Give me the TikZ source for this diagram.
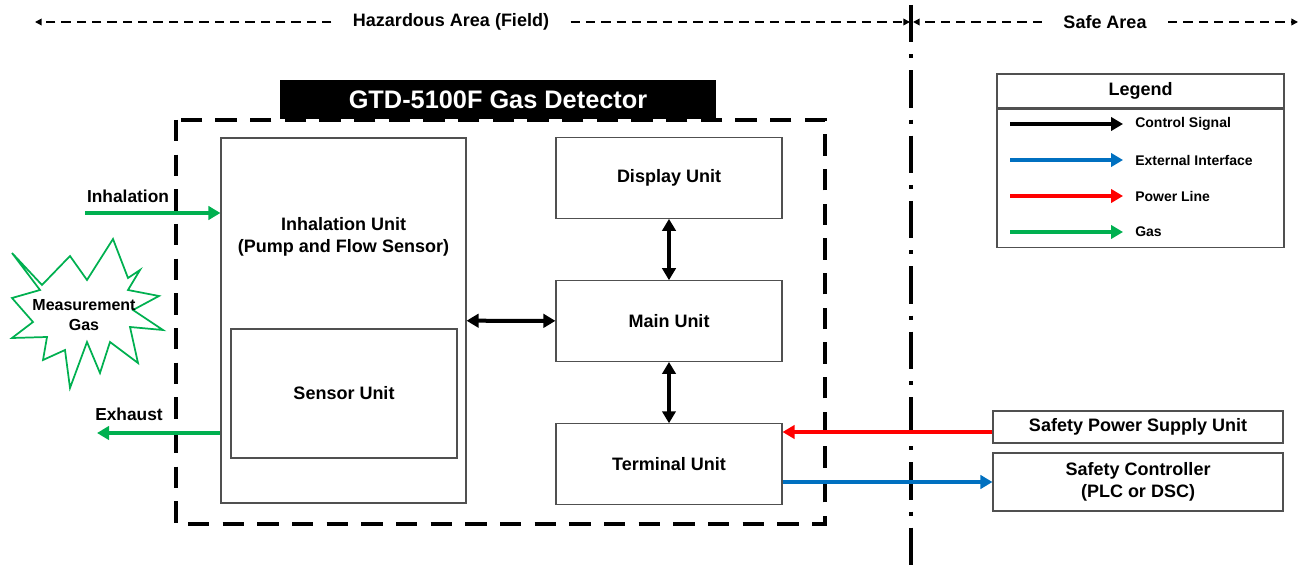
\documentclass[tikz,border=0pt]{standalone}
\usepackage{fontspec}
\setmainfont{Liberation Sans}
\usetikzlibrary{arrows.meta,positioning,calc}
\definecolor{GasGreen}{HTML}{00B050}
\definecolor{LinkBlue}{HTML}{0070C0}
\definecolor{PowerRed}{HTML}{FF0000}
\definecolor{Frame}{HTML}{505050}
\tikzset{
  unit/.style={draw=Frame, line width=0.8pt, fill=white, align=center,
               inner sep=0pt, font=\bfseries\fontsize{13.5}{17}\selectfont},
  tagtext/.style={font=\bfseries\fontsize{13}{16}\selectfont, inner sep=1pt},
  legtext/.style={font=\bfseries\fontsize{10.5}{12}\selectfont, inner sep=0pt, anchor=west},
  area/.style={font=\bfseries\fontsize{13.5}{16}\selectfont, inner xsep=16pt},
  zone/.style={line width=1.1pt, dash pattern=on 7pt off 4.5pt,
               -{Triangle[length=5pt,width=5pt]}},
  divider/.style={line width=3pt, dash pattern=on 28pt off 9pt on 3pt off 9pt},
  housing/.style={line width=3pt, dash pattern=on 16pt off 10pt},
  flow/.style={line width=3pt, -{Triangle[length=9pt,width=10pt]}},
  ctlarrow/.style={flow, draw=black},
  gasarrow/.style={flow, draw=GasGreen},
  linkarrow/.style={flow, draw=LinkBlue},
  powerarrow/.style={flow, draw=PowerRed},
  ctlboth/.style={line width=3pt, {Triangle[length=9pt,width=10pt]}-{Triangle[length=9pt,width=10pt]}},
}
\begin{document}
\begin{tikzpicture}[x=0.75pt, y=-0.75pt, node distance=46pt]
  \useasboundingbox (0,0) rectangle (1301,577);
  % areas
  \node[area] (haz) at (451,22) {Hazardous Area (Field)};
  \node[area] (safe) at (1105,22) {Safe Area};
  \coordinate (hazL) at (35,22);
  \coordinate (hazR) at (910,22);
  \coordinate (safeL) at (913,22);
  \coordinate (safeR) at (1298,22);
  \draw[zone] (haz.west) -- (hazL);
  \draw[zone] (haz.east) -- (hazR);
  \draw[zone] (safe.west) -- (safeL);
  \draw[zone] (safe.east) -- (safeR);
  \draw[divider] (911,5) -- (911,577);
  % detector housing
  \draw[housing] (176,120) rectangle (825,524);
  \node[fill=black, text=white, inner sep=0pt, minimum width=327pt, minimum height=29.25pt,
        font=\bfseries\fontsize{19}{22}\selectfont] (title) at (498,99.5) {GTD-5100F Gas Detector};
  % units
  \node[unit, minimum width=183.75pt, minimum height=273.75pt] (inhal) at (343.5,320.5) {};
  \node[unit, draw=none, fill=none] (inhaltxt) at (343.5,237) {Inhalation Unit\\(Pump and Flow Sensor)};
  \node[unit, minimum width=169.5pt, minimum height=96.75pt] (sensor) at (344,393.5) {Sensor Unit};
  \node[unit, minimum width=169.5pt, minimum height=60.5pt] (disp) at (669,178) {Display Unit};
  \node[unit, minimum width=169.5pt, minimum height=60.5pt, below=46pt of disp] (main) {Main Unit};
  \node[unit, minimum width=169.5pt, minimum height=60.5pt, below=46pt of main] (term) {Terminal Unit};
  \draw[ctlboth] (inhal) -- (main);
  \draw[ctlboth] (disp) -- (main);
  \draw[ctlboth] (main) -- (term);
  % safe side
  \node[unit, minimum width=217.5pt, minimum height=24pt] (psu) at (1138,427) {Safety Power Supply Unit};
  \node[unit, minimum width=217.5pt, minimum height=43.5pt] (ctrl) at (1138,482) {Safety Controller\\(PLC or DSC)};
  \draw[powerarrow] ($(psu.west)+(0,5)$) -- ($(term.east |- psu.west)+(0,5)$);
  \draw[linkarrow] (term.east |- ctrl.west) -- (ctrl.west);
  % gas in and out
  \coordinate (inlet) at (85,213);
  \coordinate (outlet) at (97,433);
  \node[tagtext] (inlbl) at (128,196) {Inhalation};
  \node[tagtext] (outlbl) at (129,414) {Exhaust};
  \draw[gasarrow] (inlet) -- (inhal.west |- inlet);
  \draw[gasarrow] (inhal.west |- outlet) -- (outlet);
  \draw[GasGreen, line width=1.3pt, fill=white] (12,253) -- (42,285) -- (70,256) -- (87,280) -- (113,239)
    -- (128,278) -- (140,270) -- (128,290) -- (159,296) -- (133,310) -- (163,330) -- (130,327)
    -- (138,363) -- (110,342) -- (100,373) -- (87,342) -- (70,388) -- (65,350) -- (43,360)
    -- (47,337) -- (12,338) -- (33,322) -- (12,298) -- (40,290) -- cycle;
  \node[align=center, inner sep=0pt, font=\bfseries\fontsize{12}{15}\selectfont] (gas) at (84,315) {Measurement\\Gas};
  % legend
  \node[unit, minimum width=215.25pt, minimum height=25.5pt] (legtitle) at (1140.5,91) {Legend};
  \node[unit, minimum width=215.25pt, minimum height=103.5pt, below=0pt of legtitle] (legbody) {};
  \node[legtext] (lctl) at (1135,124) {Control Signal};
  \node[legtext] (llink) at (1135,160) {External Interface};
  \node[legtext] (lpower) at (1135,196) {Power Line};
  \node[legtext] (lgas) at (1135,232) {Gas};
  \draw[ctlarrow] ($(lctl.west)+(-125,0)$) -- ($(lctl.west)+(-12,0)$);
  \draw[linkarrow] ($(llink.west)+(-125,0)$) -- ($(llink.west)+(-12,0)$);
  \draw[powerarrow] ($(lpower.west)+(-125,0)$) -- ($(lpower.west)+(-12,0)$);
  \draw[gasarrow] ($(lgas.west)+(-125,0)$) -- ($(lgas.west)+(-12,0)$);
\end{tikzpicture}
\end{document}
